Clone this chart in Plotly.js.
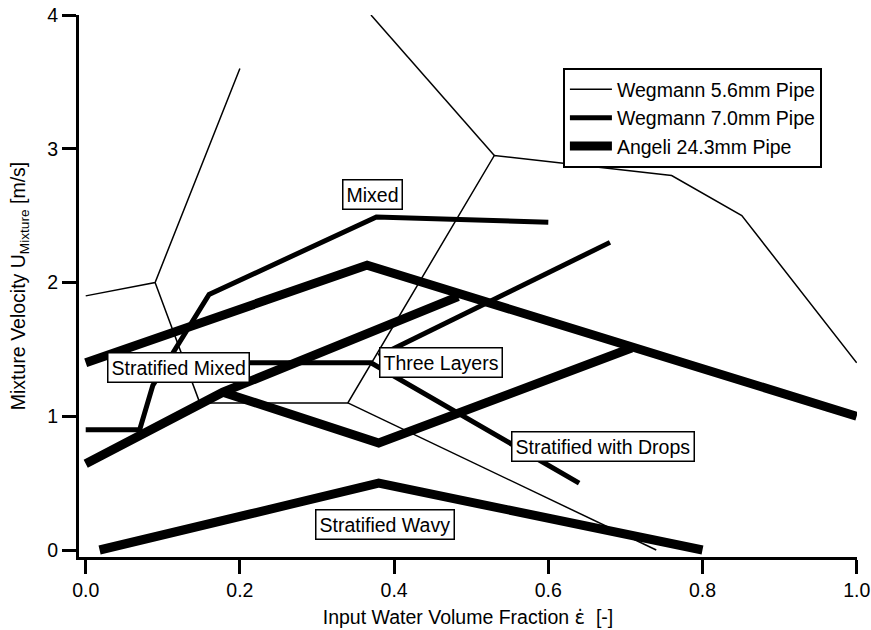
<!DOCTYPE html>
<html>
<head>
<meta charset="utf-8">
<script src="https://cdn.plot.ly/plotly-3.0.1.min.js"></script>
<style>html,body{margin:0;padding:0;background:#fff;}#chart{width:871px;height:630px;}</style>
</head>
<body>
<div id="chart"></div>
<script>
// Series names
const seriesNames = ["Wegmann 5.6mm Pipe", "Wegmann 7.0mm Pipe", "Angeli 24.3mm Pipe"];

// Wegmann 5.6mm pipe boundaries (segments separated by null)
const weg56X = [0, 0.09, 0.2, null, 0.09, 0.148, 0.34, 0.53, 0.76, 0.851, 1.0, null, 0.37, 0.53, null, 0.34, 0.74];
const weg56Y = [1.9, 2.0, 3.6, null, 2.0, 1.1, 1.1, 2.95, 2.8, 2.5, 1.4, null, 4.0, 2.95, null, 1.1, 0.0];

// Wegmann 7.0mm pipe boundaries
const weg70X = [0, 0.07, 0.087, 0.16, 0.377, 0.6, null, 0.1, 0.37, 0.64, null, 0.38, 0.68];
const weg70Y = [0.9, 0.9, 1.23, 1.91, 2.49, 2.45, null, 1.4, 1.4, 0.5, null, 1.45, 2.3];

// Angeli 24.3mm pipe boundaries
const angX = [0, 0.365, 1.0, null, 0, 0.178, 0.483, null, 0.178, 0.38, 0.708, null, 0.018, 0.38, 0.8];
const angY = [1.4, 2.13, 1.0, null, 0.645, 1.18, 1.895, null, 1.18, 0.8, 1.51, null, 0.0, 0.5, 0.0];

// Flow regime labels
const regimeLabels = ["Mixed", "Stratified Mixed", "Three Layers", "Stratified with Drops", "Stratified Wavy"];
const regimeX = [0.372, 0.120, 0.461, 0.671, 0.388];
const regimeY = [2.66, 1.364, 1.40, 0.773, 0.193];

// Tick values
const xTicks = [0, 0.2, 0.4, 0.6, 0.8, 1.0];
const yTicks = [0, 1, 2, 3, 4];

const FONT = "'Liberation Sans', Arial, Helvetica, sans-serif";

const traces = [
  {x: weg56X, y: weg56Y, name: seriesNames[0], mode: "lines", line: {color: "#000", width: 1.5}},
  {x: weg70X, y: weg70Y, name: seriesNames[1], mode: "lines", line: {color: "#000", width: 5}},
  {x: angX, y: angY, name: seriesNames[2], mode: "lines", line: {color: "#000", width: 9}}
];

const annotations = regimeLabels.map((t, i) => ({
  x: regimeX[i], y: regimeY[i], xref: "x", yref: "y", text: t, showarrow: false,
  font: {family: FONT, size: 19.5, color: "#000"},
  bgcolor: "#fff", bordercolor: "#000", borderwidth: 1.5, borderpad: 3
}));

const layout = {
  width: 871, height: 630,
  margin: {l: 79, r: 14, t: 15, b: 73},
  paper_bgcolor: "#fff", plot_bgcolor: "#fff",
  font: {family: FONT, size: 19.5, color: "#000"},
  showlegend: true,
  legend: {
    x: 0.622, y: 0.902, xanchor: "left", yanchor: "top",
    bgcolor: "#fff", bordercolor: "#000", borderwidth: 2, itemwidth: 42,
    font: {family: FONT, size: 19.5, color: "#000"}
  },
  xaxis: {
    range: [-0.0087, 1.0004], tickvals: xTicks, tickformat: ".1f",
    showgrid: false, zeroline: false, showline: true, linecolor: "#000", linewidth: 3,
    ticks: "outside", ticklen: 14, tickwidth: 3, tickcolor: "#000",
    tickfont: {family: FONT, size: 19.5, color: "#000"},
    title: {text: "Input Water Volume Fraction <span style=\"font-family:'DejaVu Sans'\">\u03B5\u0307</span>\u00A0 [-]", font: {family: FONT, size: 19.5, color: "#000"}, standoff: 10}
  },
  yaxis: {
    range: [-0.0523, 4.0], tickvals: yTicks, tickformat: "d",
    showgrid: false, zeroline: false, showline: true, linecolor: "#000", linewidth: 3,
    ticks: "outside", ticklen: 14, tickwidth: 3, tickcolor: "#000",
    tickfont: {family: FONT, size: 19.5, color: "#000"},
    title: {text: "Mixture Velocity U<sub>Mixture</sub> [m/s]", font: {family: FONT, size: 19.5, color: "#000"}, standoff: 17}
  },
  annotations: annotations
};

Plotly.newPlot("chart", traces, layout, {displayModeBar: false, staticPlot: true});
</script>
</body>
</html>
